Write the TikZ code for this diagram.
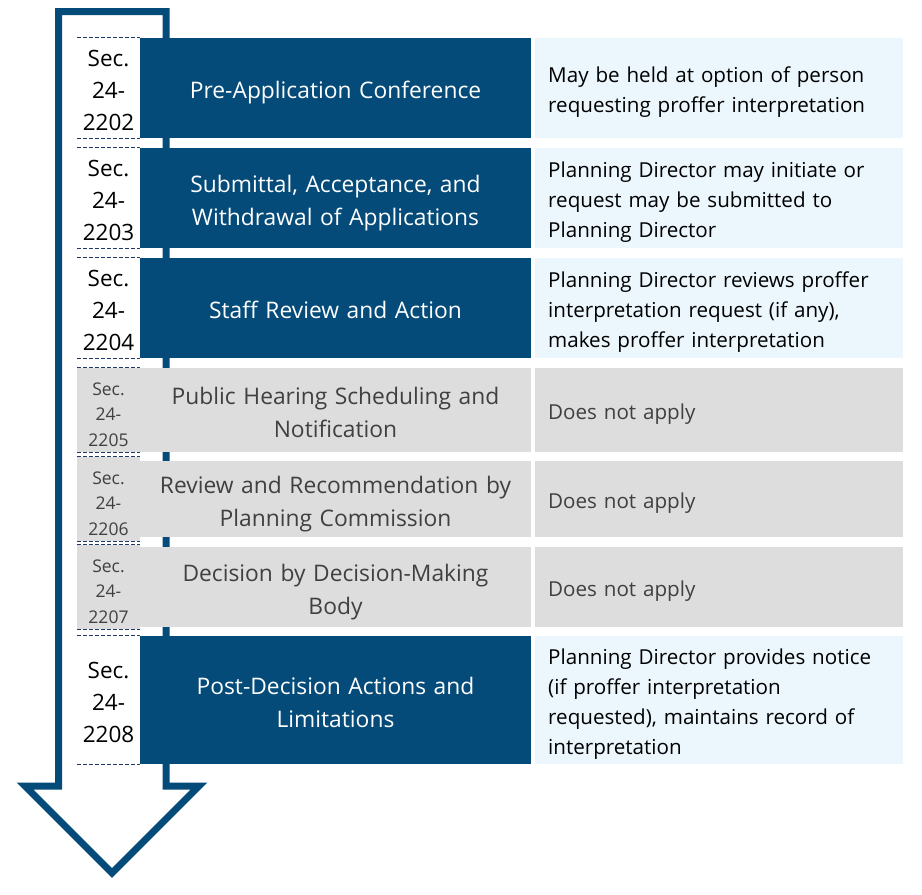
\documentclass[tikz,border=0pt]{standalone}
\usepackage{fontspec}
\setmainfont{Open Sans}
\definecolor{stepblue}{HTML}{044B79}
\definecolor{descblue}{HTML}{EBF6FD}
\definecolor{offgray}{HTML}{DDDDDD}
\definecolor{offtext}{HTML}{404040}
\definecolor{dashnavy}{HTML}{1F3864}
\tikzset{
 struts/.style 2 args={execute at begin node={\rule{0pt}{#1pt}},execute at end node={\rule[-#2pt]{0pt}{0pt}}},
 seccell/.style={text width=63pt,inner sep=0pt,align=center,font=\fontsize{22.5}{32}\selectfont,struts={27}{6}},
 secoff/.style={seccell,fill=offgray,text=offtext,font=\fontsize{17.5}{25.5}\selectfont,struts={23.5}{6}},
 stepcell/.style={text width=391pt,inner sep=0pt,align=center,fill=stepblue,text=white,font=\fontsize{22.8}{33}\selectfont,struts={27.3}{6}},
 stepoff/.style={stepcell,fill=offgray,text=offtext},
 desccell/.style={anchor=west,text width=342pt,inner xsep=13pt,inner ysep=0pt,align=left,fill=descblue,font=\fontsize{20.6}{30}\selectfont,struts={25.7}{6}},
 descoff/.style={desccell,fill=offgray,text=offtext},
 secline/.style={dashnavy,line width=0.9pt,dash pattern=on 4pt off 2pt}
}
\begin{document}
\begin{tikzpicture}[x=1pt,y=-1pt]
 \useasboundingbox (0,0) rectangle (922,895);
 % big arrow behind the table
 \draw[stepblue,line width=7pt,miter limit=10] (58.5,786)--(58.5,11.5)--(166,11.5)--(166,786)--(199,786)--(112,873)--(25,786)--cycle;
 % row 1
 \node[seccell,minimum height=100pt] (s1) at (108.5,88) {Sec.\\24-\\2202};
 \node[stepcell,minimum height=100pt] (t1) at (335.5,88) {Pre-Application Conference};
 \node[desccell,minimum height=100pt] (d1) at (535,88) {May be held at option of person\\requesting proffer interpretation};
 % row 2
 \node[seccell,minimum height=100pt] (s2) at (108.5,198) {Sec.\\24-\\2203};
 \node[stepcell,minimum height=100pt] (t2) at (335.5,198) {Submittal, Acceptance, and\\Withdrawal of Applications};
 \node[desccell,minimum height=100pt] (d2) at (535,198) {Planning Director may initiate or\\request may be submitted to\\Planning Director};
 % row 3
 \node[seccell,minimum height=100pt] (s3) at (108.5,308) {Sec.\\24-\\2204};
 \node[stepcell,minimum height=100pt] (t3) at (335.5,308) {Staff Review and Action};
 \node[desccell,minimum height=100pt] (d3) at (535,308) {Planning Director reviews proffer\\interpretation request (if any),\\makes proffer interpretation};
 % row 4
 \node[secoff,minimum height=84pt] (s4) at (108.5,410) {Sec.\\24-\\2205};
 \node[stepoff,minimum height=84pt] (t4) at (335.5,410) {Public Hearing Scheduling and\\Notification};
 \node[descoff,minimum height=84pt] (d4) at (535,410) {Does not apply};
 % row 5
 \node[secoff,minimum height=76pt] (s5) at (108.5,499) {Sec.\\24-\\2206};
 \node[stepoff,minimum height=76pt] (t5) at (335.5,499) {Review and Recommendation by\\Planning Commission};
 \node[descoff,minimum height=76pt] (d5) at (535,499) {Does not apply};
 % row 6
 \node[secoff,minimum height=80pt] (s6) at (108.5,587) {Sec.\\24-\\2207};
 \node[stepoff,minimum height=80pt] (t6) at (335.5,587) {Decision by Decision-Making\\Body};
 \node[descoff,minimum height=80pt] (d6) at (535,587) {Does not apply};
 % row 7
 \node[seccell,minimum height=128pt] (s7) at (108.5,700) {Sec.\\24-\\2208};
 \node[stepcell,minimum height=128pt] (t7) at (335.5,700) {Post-Decision Actions and\\Limitations};
 \node[desccell,minimum height=128pt] (d7) at (535,700) {Planning Director provides notice\\(if proffer interpretation\\requested), maintains record of\\interpretation};
 % dashed rules above and below the section numbers
 \foreach \s in {s1,s2,s3,s4,s5,s6,s7}{
  \draw[secline] (\s.north west)--(\s.north east);
  \draw[secline] (\s.south west)--(\s.south east);
 }
\end{tikzpicture}
\end{document}
